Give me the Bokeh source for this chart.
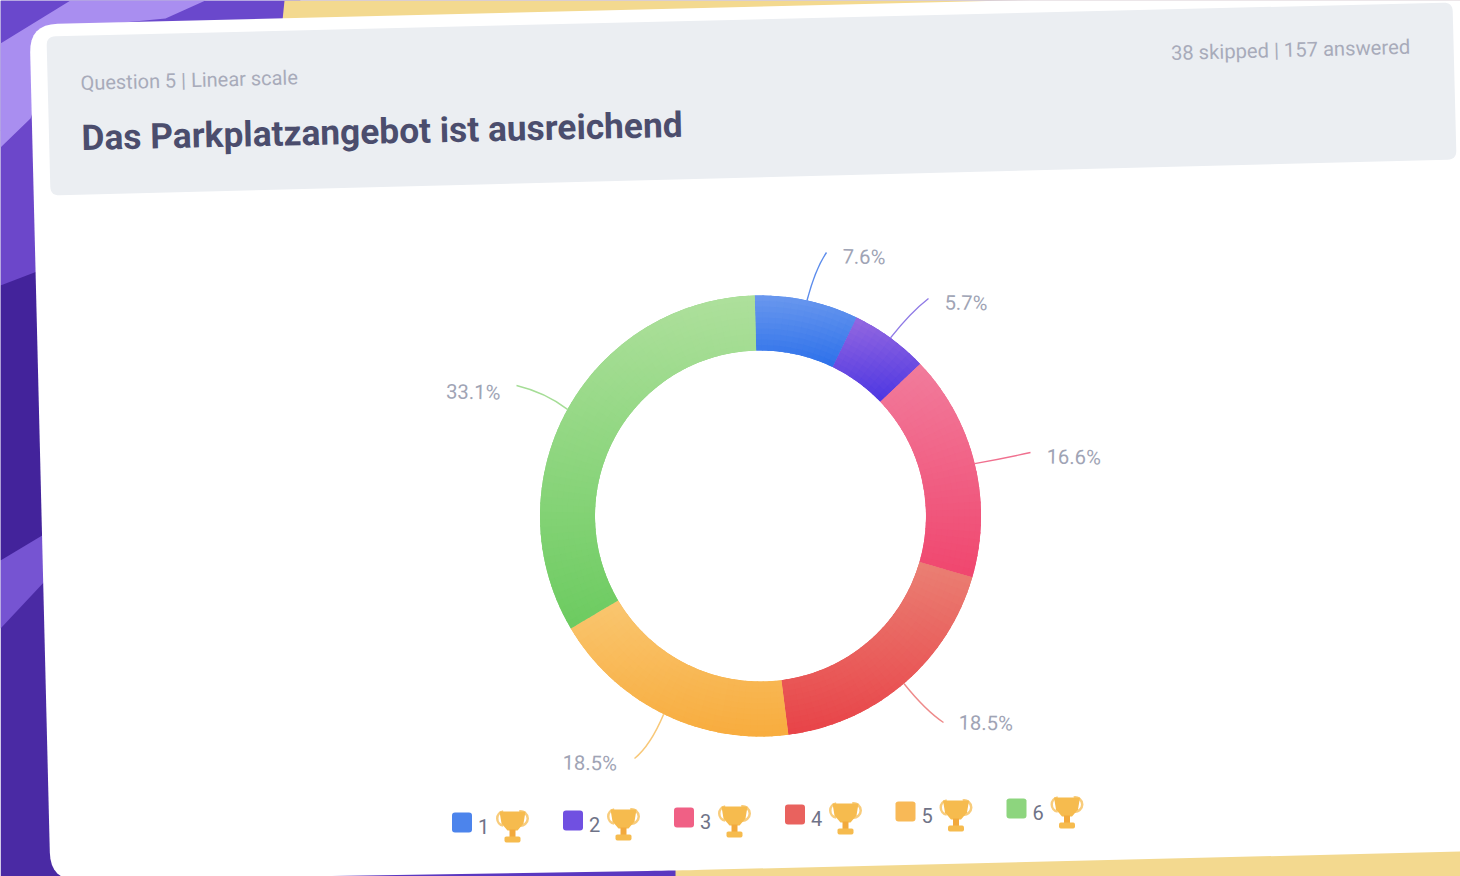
import math
from bokeh.plotting import figure
from bokeh.models import Range1d
from bokeh.core.properties import value
from bokeh.embed import file_html
from bokeh.resources import INLINE

# ---- data ----
categories = ["1", "2", "3", "4", "5", "6"]
percentages = [7.6, 5.7, 16.6, 18.5, 18.5, 33.1]
percent_labels = ["7.6%", "5.7%", "16.6%", "18.5%", "18.5%", "33.1%"]
header_meta = "Question 5 | Linear scale"
header_title = "Das Parkplatzangebot ist ausreichend"
header_counts = "38 skipped | 157 answered"

# ---- style ----
top_colors = ["#6a98ee", "#9468e0", "#f17c9c", "#ea8074", "#f9c670", "#aee09c"]
bottom_colors = ["#2c70ea", "#4c36e2", "#f0466e", "#e84348", "#f8ac3e", "#6ccb60"]
mid_colors = ["#4c84ec", "#7050e1", "#f06085", "#e9625e", "#f8b957", "#8dd57e"]

W, H = 1460, 876
CX, CY, R_OUT, R_IN, ROT = 760, 515.5, 220.5, 165.5, 1.5
FONT = value("Roboto")


def Y(py):
    return H - py


p = figure(width=W, height=H, output_backend="svg", toolbar_location=None,
           x_range=Range1d(0, W), y_range=Range1d(0, H),
           x_axis_type=None, y_axis_type=None, min_border=0, outline_line_color=None,
           background_fill_color="#ffffff", border_fill_color="#ffffff")
p.grid.visible = False


def poly(points, color, alpha=1.0):
    p.patch([a for a, _ in points], [Y(b) for _, b in points], fill_color=color,
            fill_alpha=alpha, line_color=None)


def rounded(corners, r, steps=8):
    out = []
    n = len(corners)
    for i in range(n):
        x0, y0 = corners[i - 1]
        x1, y1 = corners[i]
        x2, y2 = corners[(i + 1) % n]
        d0, d2 = math.hypot(x0 - x1, y0 - y1), math.hypot(x2 - x1, y2 - y1)
        ax, ay = x1 + (x0 - x1) * r / d0, y1 + (y0 - y1) * r / d0
        bx, by = x1 + (x2 - x1) * r / d2, y1 + (y2 - y1) * r / d2
        for k in range(steps + 1):
            t = k / steps
            out.append(((1 - t) ** 2 * ax + 2 * t * (1 - t) * x1 + t * t * bx,
                        (1 - t) ** 2 * ay + 2 * t * (1 - t) * y1 + t * t * by))
    return out


def hex_mix(c0, c1, t):
    t = max(0.0, min(1.0, t))
    a = [int(c0[i:i + 2], 16) for i in (1, 3, 5)]
    b = [int(c1[i:i + 2], 16) for i in (1, 3, 5)]
    return "#%02x%02x%02x" % tuple(round(u + (v - u) * t) for u, v in zip(a, b))


def label(x, y, txt, size, color, angle=1.4, bold=False, align="left"):
    # y is the vertical middle of the text at its anchor
    p.text([x], [Y(y)], text=[txt], text_font=FONT, text_font_size=f"{size}px",
           text_color=color, angle=math.radians(angle), text_align=align,
           text_baseline="middle", text_font_style="bold" if bold else "normal")


# ---- backdrop ----
poly([(0, 0), (W, 0), (W, H), (0, H)], "#4a2aa4")
poly([(0, 0), (300, 0), (285, 30), (60, 60), (0, 130)], "#6a48cc")
poly([(0, 130), (60, 60), (60, 275), (0, 285)], "#6c47ca")
poly([(0, 285), (60, 262), (60, 530), (0, 560)], "#43239b")
poly([(0, 560), (45, 533), (45, 580), (0, 628)], "#7654d2")
poly([(0, 43), (70, 0), (205, 0), (165, 18), (60, 28), (30, 118), (0, 147)], "#a98ef0")
poly([(284, 0), (W, 0), (W, 40), (280, 40)], "#f3d98f")
poly([(60, H), (60, 860), (675, 860), (675, H)], "#5a38c0")
poly([(675, H), (675, 840), (W, 840), (W, H)], "#f3d98f")

# ---- card and header ----
poly(rounded([(29, 24), (1520, -12.5), (1520, 849.6), (675, 870), (50, 880)], 28), "#ffffff")
poly(rounded([(46, 36), (1452, 2), (1456, 159), (50, 195)], 9), "#ebeef2")

label(80, 82.5, header_meta, 20, "#a8abba", angle=1.5)
label(81, 137.5, header_title, 35.3, "#4b4d6d", angle=1.25, bold=True)
label(1170.5, 52.5, header_counts, 20.2, "#a8abba", angle=1.5)

# ---- donut ----
total = sum(percentages)
bounds = [0.0]
for v in percentages:
    bounds.append(bounds[-1] + v / total * 360.0)


def std(cw_deg):
    """clockwise-from-top degrees, rotated slightly, to radians anticlockwise from +x"""
    return math.radians(90.0 - (cw_deg - ROT))


# base slices, one per value
for i, cat in enumerate(categories):
    p.annular_wedge([CX], [Y(CY)], inner_radius=R_IN, outer_radius=R_OUT,
                    start_angle=std(bounds[i + 1]), end_angle=std(bounds[i]),
                    fill_color=mid_colors[i], line_color=None, name=f"slice-{cat}")

# vertical colour ramp of each slice, painted over it in small overlapping cells
BANDS, STEP, OVER_A, OVER_R = 10, 2.0, 0.5, 1.0
for i in range(len(categories)):
    sweep = bounds[i + 1] - bounds[i]
    n = max(2, int(round(sweep / STEP)))
    ys = []
    for k in range(n + 1):
        a = bounds[i] + sweep * k / n - ROT
        for rr in (R_IN, R_OUT):
            ys.append(CY - rr * math.cos(math.radians(a)))
    y0, y1 = min(ys), max(ys)
    xs_, ys_, ir, orr, sa, ea, cols = [], [], [], [], [], [], []
    for k in range(n):
        a0 = bounds[i] + sweep * k / n
        a1 = bounds[i] + sweep * (k + 1) / n
        am = (a0 + a1) / 2 - ROT
        for b in range(BANDS):
            r0 = R_IN + (R_OUT - R_IN) * b / BANDS
            r1 = R_IN + (R_OUT - R_IN) * (b + 1) / BANDS
            py = CY - (r0 + r1) / 2 * math.cos(math.radians(am))
            xs_.append(CX)
            ys_.append(Y(CY))
            ir.append(r0)
            orr.append(min(R_OUT, r1 + OVER_R))
            sa.append(std(min(bounds[i + 1], a1 + OVER_A)))
            ea.append(std(a0))
            cols.append(hex_mix(top_colors[i], bottom_colors[i], (py - y0) / (y1 - y0)))
    p.annular_wedge(xs_, ys_, inner_radius=ir, outer_radius=orr, start_angle=sa, end_angle=ea,
                    fill_color=cols, line_color=None)

# ---- leader lines and labels ----
leader_mid = [(815, 268), (910, 312), (1003, 458), (925, 710), (650, 745), (545, 392)]
leader_end = [(826, 252), (928, 298), (1030, 452), (943, 722), (634, 758), (516, 385)]
label_pos = [(842, 256), (944, 302), (1046, 456), (958, 722), (562, 762), (445.5, 391)]
leader_colors = ["#5c8cec", "#8f7ae6", "#f0708f", "#ee8a8a", "#f8c878", "#a5dd96"]

for i, lab in enumerate(percent_labels):
    mid = (bounds[i] + bounds[i + 1]) / 2 - ROT
    sx = CX + R_OUT * math.sin(math.radians(mid))
    sy = CY - R_OUT * math.cos(math.radians(mid))
    p.quadratic(x0=[sx], y0=[Y(sy)], x1=[leader_end[i][0]], y1=[Y(leader_end[i][1])],
                cx=[leader_mid[i][0]], cy=[Y(leader_mid[i][1])],
                line_color=leader_colors[i], line_width=1.4)
    label(label_pos[i][0], label_pos[i][1], lab, 20.3, "#a0a4b5", angle=-1.0)


# ---- legend ----
def trophy(cx, cy):
    gold, dark = "#f6bb4e", "#f2a93c"
    for s in (-1, 1):
        p.annular_wedge([cx + s * 8], [Y(cy - 8)], inner_radius=6.0, outer_radius=8.5,
                        start_angle=math.radians(-100 if s > 0 else 100),
                        end_angle=math.radians(100 if s > 0 else 260),
                        fill_color="#f8cc7c", line_color=None)
    poly([(cx - 13, cy - 15), (cx + 13, cy - 15), (cx + 11, cy - 3), (cx + 5, cy + 4),
          (cx - 5, cy + 4), (cx - 11, cy - 3)], gold)
    poly([(cx - 3, cy + 3), (cx + 3, cy + 3), (cx + 3, cy + 11), (cx - 3, cy + 11)], dark)
    poly(rounded([(cx - 8, cy + 10), (cx + 8, cy + 10), (cx + 8, cy + 16), (cx - 8, cy + 16)], 2, 3), gold)


legend_x = [461.5, 572.5, 683.5, 794.5, 905, 1016]
legend_y = [822, 820, 817, 814, 811, 808]
for i, cat in enumerate(categories):
    x, y = legend_x[i], legend_y[i]
    corners = [(x - 10, y - 10), (x + 10, y - 10), (x + 10, y + 10), (x - 10, y + 10)]
    poly(rounded(corners, 3, 4), mid_colors[i])
    label(x + 21.5, y + 3.5, cat, 20, "#6f7387", angle=0, align="center")
    trophy(x + 50.5, y + 4)

open("out.html", "w").write(file_html(p, INLINE))
